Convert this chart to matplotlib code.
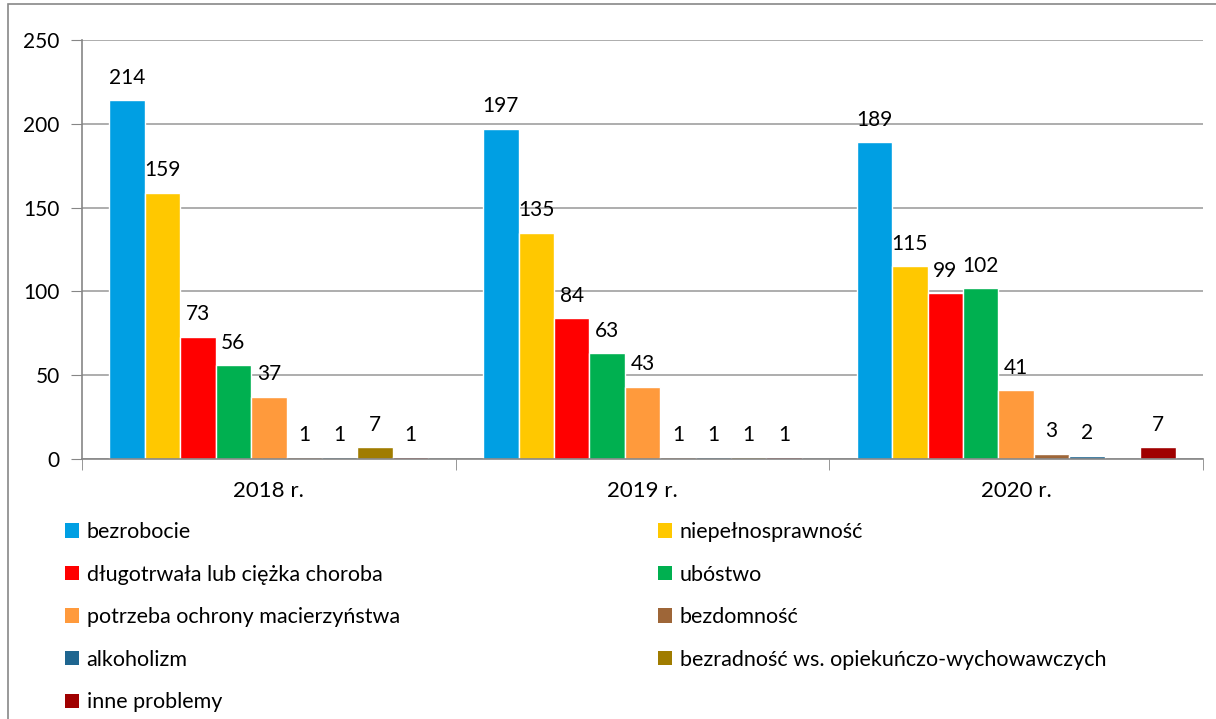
import numpy as np
import matplotlib.pyplot as plt
from matplotlib.patches import Rectangle, Patch

plt.rcParams['font.family'] = ['Lato', 'DejaVu Sans']

years = ['2018 r.', '2019 r.', '2020 r.']
series = ['bezrobocie', 'niepełnosprawność', 'długotrwała lub ciężka choroba',
          'ubóstwo', 'potrzeba ochrony macierzyństwa', 'bezdomność',
          'alkoholizm', 'bezradność ws. opiekuńczo-wychowawczych', 'inne problemy']
bezrobocie = [214, 197, 189]
niepelnosprawnosc = [159, 135, 115]
choroba = [73, 84, 99]
ubostwo = [56, 63, 102]
macierzynstwo = [37, 43, 41]
bezdomnosc = [1, 1, 3]
alkoholizm = [1, 1, 2]
bezradnosc = [7, 1, 0]
inne = [1, 1, 7]
values = [bezrobocie, niepelnosprawnosc, choroba, ubostwo, macierzynstwo,
          bezdomnosc, alkoholizm, bezradnosc, inne]
colors = ['#009FE3', '#FFC800', '#FF0000', '#00B050', '#FF9A3C',
          '#9E6638', '#1F6690', '#A07C00', '#A00000']

fig = plt.figure(figsize=(12.16, 7.19), dpi=100)
ax = fig.add_axes([82/1216, 1-459/719, (1203-82)/1216, (459-40)/719])

n = len(series)
w = 0.853 / n
x = np.arange(len(years)) + 0.5
for i in range(n):
    pos = x - 0.853/2 + w*(i+0.5)
    ax.bar(pos, values[i], w, color=colors[i], edgecolor='white', linewidth=1.0, zorder=3)
    for p, v in zip(pos, values[i]):
        if v > 0:
            ax.annotate(str(v), (p, v), xytext=(0, 9), textcoords='offset points',
                        ha='center', va='bottom', fontsize=15)

ax.set_xlim(0, 3)
ax.set_ylim(0, 250)
ax.set_yticks(range(0, 251, 50))
ax.set_xticks(x)
ax.set_xticklabels(years)
ax.set_xticks([0, 1, 2, 3], minor=True)
ax.tick_params(axis='x', which='major', length=0, labelsize=16, pad=16)
ax.tick_params(axis='x', which='minor', length=8, color='#868686')
ax.tick_params(axis='y', length=8, color='#868686', labelsize=15, pad=8)
ax.grid(axis='y', color='#A0A0A0', linewidth=1.2, zorder=0)
for s in ['top', 'right']:
    ax.spines[s].set_visible(False)
ax.spines['left'].set_color('#868686')
ax.spines['bottom'].set_color('#868686')
ax.spines['left'].set_linewidth(1.2)
ax.spines['bottom'].set_linewidth(1.2)
ax.spines['bottom'].set_zorder(4)

handles = [Patch(facecolor=c) for c in colors]
left_idx = [0, 2, 4, 6, 8]
right_idx = [1, 3, 5, 7]
for idx, xpos in [(left_idx, 65/1216), (right_idx, 658/1216)]:
    fig.legend([handles[i] for i in idx], [series[i] for i in idx],
               loc='upper left', bbox_to_anchor=(xpos, 1-522/719),
               frameon=False, fontsize=15.5, handlelength=0.65, handleheight=0.65,
               handletextpad=0.35, labelspacing=1.05, borderpad=0, borderaxespad=0)

fig.patches.append(Rectangle((8/1216, -0.1), 1.2, 1-4/719+0.1, transform=fig.transFigure,
                             fill=False, edgecolor='#888888', linewidth=1.2))

fig.savefig('out.png', dpi=100)
